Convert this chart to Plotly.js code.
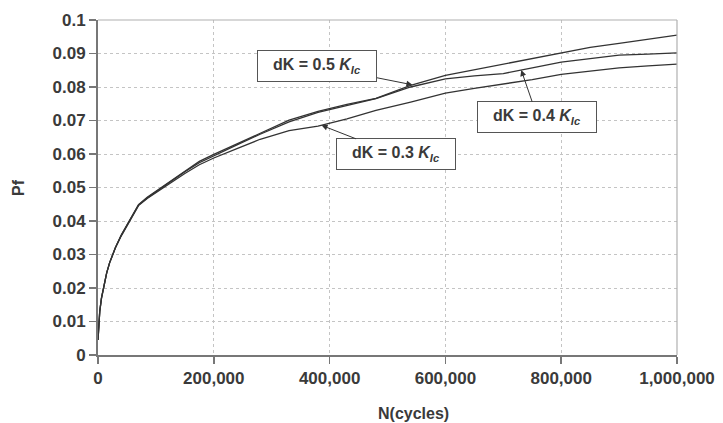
<!DOCTYPE html>
<html>
<head>
<meta charset="utf-8">
<script src="https://cdn.plot.ly/plotly-3.0.1.min.js"></script>
<style>html,body{margin:0;padding:0;background:#fff;}#chart{width:723px;height:423px;}</style>
</head>
<body>
<div id="chart"></div>
<script>
// Cycles (x values)
const cycles = [0, 1000, 3000, 6000, 10000, 15000, 20000, 30000, 40000, 50000, 60000, 70000, 85000, 100000, 115000, 130000, 150000, 175000, 200000, 240000, 280000, 330000, 380000, 430000, 480000, 540000, 600000, 650000, 700000, 750000, 800000, 850000, 900000, 950000, 1000000];
// Pf series
const pf03 = [0.0045, 0.009, 0.013, 0.017, 0.0205, 0.0245, 0.0275, 0.032, 0.0355, 0.0385, 0.0418, 0.0446, 0.0467, 0.0484, 0.0502, 0.0520, 0.0542, 0.0568, 0.0588, 0.0616, 0.0644, 0.0670, 0.0683, 0.0705, 0.0730, 0.0755, 0.0782, 0.0796, 0.0808, 0.0822, 0.0838, 0.0848, 0.0857, 0.0863, 0.0868];
const pf04 = [0.0045, 0.009, 0.013, 0.017, 0.0205, 0.0245, 0.0275, 0.032, 0.0357, 0.0387, 0.0420, 0.0448, 0.0469, 0.0487, 0.0506, 0.0524, 0.0547, 0.0574, 0.0595, 0.0627, 0.0659, 0.0696, 0.0724, 0.0745, 0.0765, 0.0800, 0.0824, 0.0833, 0.0840, 0.0857, 0.0874, 0.0885, 0.0895, 0.0898, 0.0902];
const pf05 = [0.0045, 0.009, 0.013, 0.017, 0.0205, 0.0245, 0.0275, 0.032, 0.0357, 0.0388, 0.0421, 0.0449, 0.0471, 0.0489, 0.0508, 0.0526, 0.0550, 0.0578, 0.0599, 0.0631, 0.0662, 0.0701, 0.0727, 0.0748, 0.0766, 0.0805, 0.0835, 0.0852, 0.0868, 0.0885, 0.0903, 0.0918, 0.0930, 0.0943, 0.0955];
const seriesNames = ["dK = 0.3 K_Ic", "dK = 0.4 K_Ic", "dK = 0.5 K_Ic"];
const labelTexts = ["dK = 0.3 <i>K</i><sub><i>Ic</i></sub>", "dK = 0.4 <i>K</i><sub><i>Ic</i></sub>", "dK = 0.5 <i>K</i><sub><i>Ic</i></sub>"];
const xTicks = [0, 200000, 400000, 600000, 800000, 1000000];
const xTickText = ["0", "200,000", "400,000", "600,000", "800,000", "1,000,000"];
const yTicks = [0, 0.01, 0.02, 0.03, 0.04, 0.05, 0.06, 0.07, 0.08, 0.09, 0.1];
const yTickText = ["0", "0.01", "0.02", "0.03", "0.04", "0.05", "0.06", "0.07", "0.08", "0.09", "0.1"];

function interp(xs, ys, x) {
  for (let i = 1; i < xs.length; i++) {
    if (x <= xs[i]) {
      const t = (x - xs[i-1]) / (xs[i] - xs[i-1]);
      return ys[i-1] + t * (ys[i] - ys[i-1]);
    }
  }
  return ys[ys.length-1];
}

const traces = [pf03, pf04, pf05].map((ys, i) => ({
  x: cycles, y: ys, type: 'scatter', mode: 'lines', name: seriesNames[i],
  line: {color: '#333', width: 1.3}, showlegend: false, hoverinfo: 'skip'
}));

const font = {family: 'Liberation Sans, Arial, sans-serif', color: '#3a3a3a'};
const boxFont = Object.assign({}, font, {size: 16, weight: 'bold'});

// label boxes with arrows: x,y = arrow tip on curve; ax,ay = box centre
const tip05x = 543000, tip04x = 731000, tip03x = 386000;
const annotations = [
  {x: tip05x, y: interp(cycles, pf05, tip05x), ax: 379000, ay: 0.0863, text: labelTexts[2]},
  {x: tip04x, y: interp(cycles, pf04, tip04x), ax: 759000, ay: 0.0710, text: labelTexts[1]},
  {x: tip03x, y: interp(cycles, pf03, tip03x), ax: 514000, ay: 0.0599, text: labelTexts[0]}
].map(a => Object.assign(a, {
  xref: 'x', yref: 'y', axref: 'x', ayref: 'y',
  showarrow: true, arrowhead: 2, arrowsize: 1.2, arrowwidth: 1, arrowcolor: '#333', standoff: 0,
  font: boxFont, bgcolor: '#fff', bordercolor: '#555', borderwidth: 1, borderpad: 4,
  width: 110, height: 22, align: 'center'
}));

// axis titles
annotations.push(
  {xref: 'paper', yref: 'paper', x: (413 - 98) / 579, y: -0.175, yanchor: 'middle', xanchor: 'center',
   text: 'N(cycles)', showarrow: false, font: Object.assign({}, font, {size: 16, weight: 'bold'})},
  {xref: 'paper', yref: 'paper', x: (18 - 98) / 579, y: (355 - 188) / 335, xanchor: 'center', yanchor: 'middle',
   text: 'Pf', textangle: -90, showarrow: false, font: Object.assign({}, font, {size: 16, weight: 'bold'})}
);

const layout = {
  width: 723, height: 423,
  margin: {l: 98, r: 46, t: 20, b: 68},
  paper_bgcolor: '#fff', plot_bgcolor: '#fff',
  showlegend: false,
  xaxis: {
    range: [0, 1000000], tickvals: xTicks, ticktext: xTickText,
    showgrid: true, gridcolor: '#c4c4c4', griddash: 'dot', gridwidth: 1,
    zeroline: false, showline: true, linecolor: '#777', linewidth: 2,
    ticks: 'outside', ticklen: 7, tickcolor: '#777', tickwidth: 1.5,
    tickfont: Object.assign({}, font, {size: 17, weight: 'bold'}), fixedrange: true
  },
  yaxis: {
    range: [0, 0.1], tickvals: yTicks, ticktext: yTickText,
    showgrid: true, gridcolor: '#c4c4c4', griddash: 'dot', gridwidth: 1,
    zeroline: false, showline: true, linecolor: '#777', linewidth: 2,
    ticks: 'outside', ticklen: 7, tickcolor: '#777', tickwidth: 1.5,
    tickfont: Object.assign({}, font, {size: 17, weight: 'bold'}), fixedrange: true
  },
  shapes: [
    {type: 'line', xref: 'paper', yref: 'paper', x0: 0, x1: 1, y0: 1, y1: 1, line: {color: '#b0b0b0', width: 1.2}},
    {type: 'line', xref: 'paper', yref: 'paper', x0: 1, x1: 1, y0: 0, y1: 1, line: {color: '#b0b0b0', width: 1.2}}
  ],
  annotations: annotations
};

Plotly.newPlot('chart', traces, layout, {staticPlot: true, displayModeBar: false});
</script>
</body>
</html>
